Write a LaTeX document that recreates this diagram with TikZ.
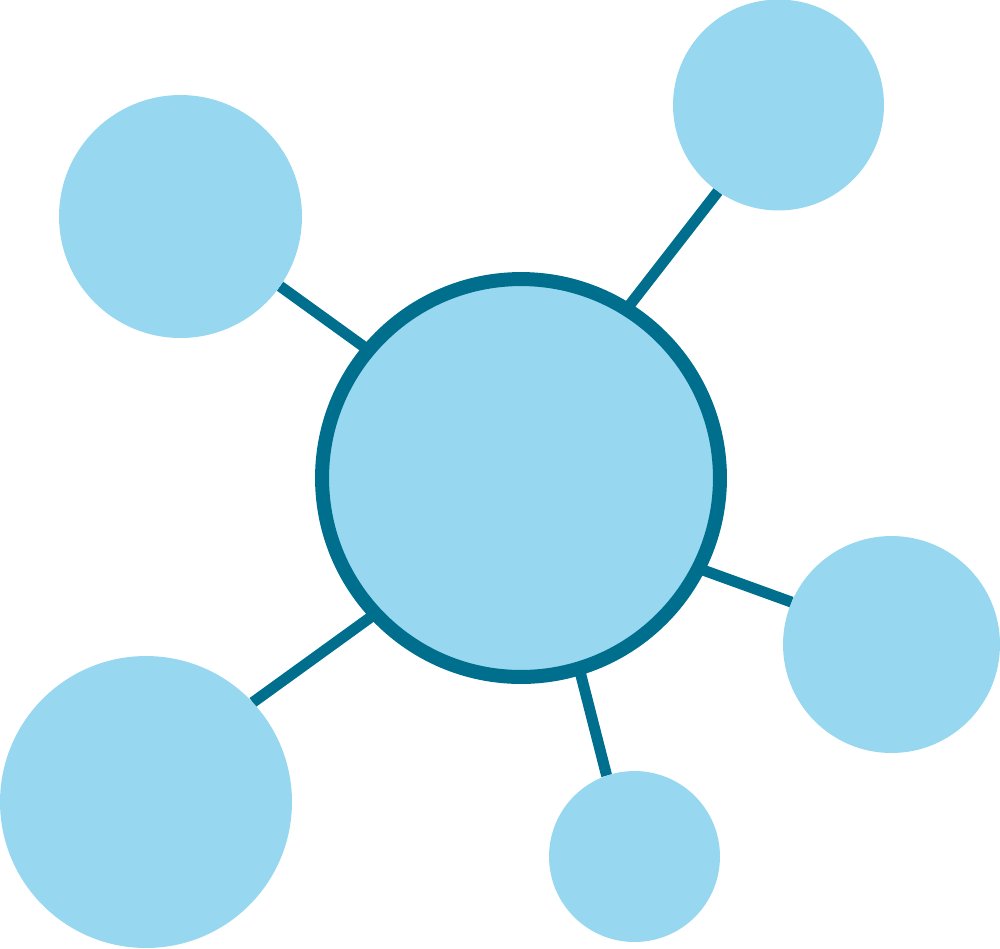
\documentclass[tikz,border=0pt]{standalone}
\usetikzlibrary{backgrounds}
\definecolor{bubble}{HTML}{97D8F0}
\definecolor{teal}{HTML}{006F8D}
\begin{document}
\begin{tikzpicture}[x=0.02cm,y=-0.02cm,
  sat/.style={circle,fill=bubble,draw=none,inner sep=0pt,outer sep=0pt},
  hub/.style={circle,fill=bubble,draw=teal,line width=0.28cm,inner sep=0pt,outer sep=0pt,minimum size=7.96cm},
  link/.style={draw=teal,line width=0.22cm}]
\useasboundingbox (0,0) rectangle (1000,948);
\node[hub] (c) at (521,478) {};
\node[sat,minimum size=4.86cm] (tl) at (180.5,216.5) {};
\node[sat,minimum size=4.22cm] (tr) at (778.5,105) {};
\node[sat,minimum size=4.34cm] (r) at (891.5,644.5) {};
\node[sat,minimum size=3.42cm] (b) at (634.5,856.5) {};
\node[sat,minimum size=5.84cm] (bl) at (146,802) {};
\begin{pgfonlayer}{background}
\draw[link] (c.140.6) -- (tl.-35.3);
\draw[link] (c.58.1) -- (tr.235.5);
\draw[link] (c.-27.6) -- (r.157.2);
\draw[link] (c.-73.2) -- (b.109);
\draw[link] (c.223.2) -- (bl.43);
\end{pgfonlayer}
\end{tikzpicture}
\end{document}
